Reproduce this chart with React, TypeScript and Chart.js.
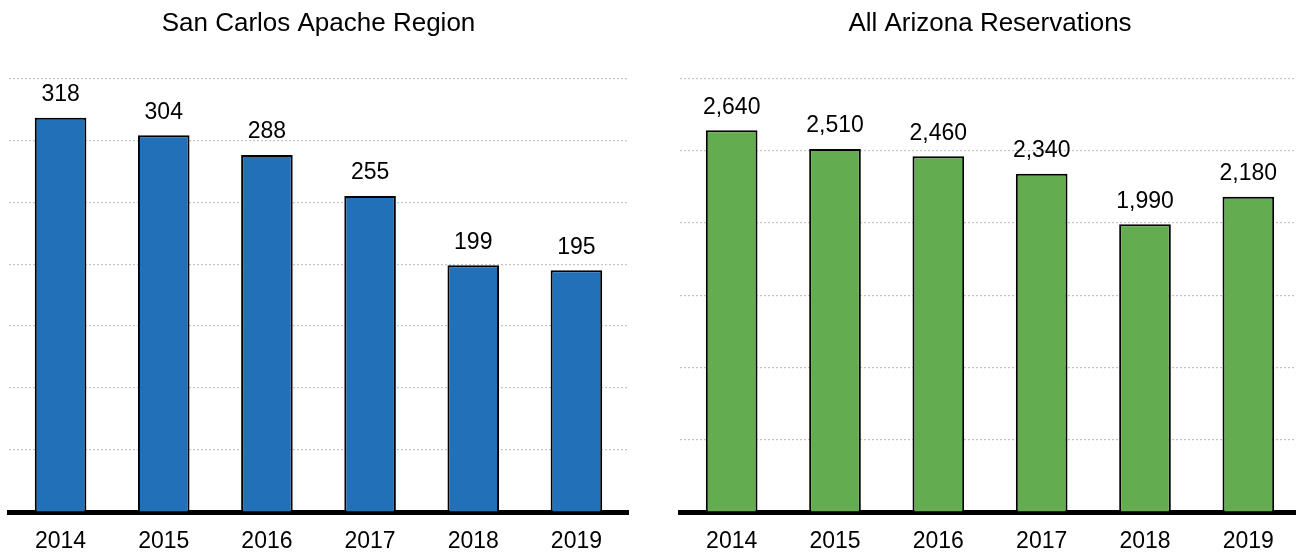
import React, { useEffect, useRef } from "react";
import { Chart, registerables } from "chart.js";

Chart.register(...registerables);

const years = ["2014", "2015", "2016", "2017", "2018", "2019"];
const sanCarlosValues = [318, 304, 288, 255, 199, 195];
const arizonaValues = [2640, 2510, 2460, 2340, 1990, 2180];
const leftTitle = "San Carlos Apache Region";
const rightTitle = "All Arizona Reservations";
const leftColor = "#2170b8";
const rightColor = "#63ac4f";

const FONT = "Arial, 'Liberation Sans', sans-serif";

const labelPlugin = {
  id: "barLabels",
  afterDatasetsDraw(chart: any) {
    const ctx = chart.ctx;
    const meta = chart.getDatasetMeta(0);
    const data = chart.data.datasets[0].data as number[];
    ctx.save();
    ctx.font = `23px ${FONT}`;
    ctx.fillStyle = "#000";
    ctx.textAlign = "center";
    ctx.textBaseline = "middle";
    meta.data.forEach((bar: any, i: number) => {
      ctx.fillText(data[i].toLocaleString("en-US"), bar.x, bar.y - 23);
    });
    ctx.restore();
  },
};

function BarPanel(props: {
  labels: string[];
  values: number[];
  color: string;
  title: string;
  max: number;
  step: number;
  padLeft: number;
  padRight: number;
  width: number;
  left: number;
}) {
  const ref = useRef<HTMLCanvasElement | null>(null);
  useEffect(() => {
    if (!ref.current) return;
    const chart = new Chart(ref.current, {
      type: "bar",
      data: {
        labels: props.labels,
        datasets: [
          {
            data: props.values,
            backgroundColor: props.color,
            borderColor: "#000",
            borderWidth: 2,
            borderSkipped: "bottom",
            categoryPercentage: 1,
            barPercentage: 0.5,
          },
        ],
      },
      options: {
        animation: false,
        responsive: false,
        maintainAspectRatio: false,
        layout: {
          padding: { left: props.padLeft, right: props.padRight, top: 8, bottom: 0 },
        },
        plugins: {
          legend: { display: false },
          tooltip: { enabled: false },
          title: {
            display: true,
            text: props.title,
            color: "#000",
            font: { family: FONT, size: 26, weight: "normal" },
            padding: { top: 0, bottom: 39 },
          },
        },
        scales: {
          x: {
            grid: { display: false, drawTicks: false },
            border: { display: true, color: "#000", width: 5 },
            ticks: {
              color: "#000",
              padding: 16,
              font: { family: FONT, size: 23 },
            },
            afterFit(scale: any) {
              scale.height = 41;
            },
          },
          y: {
            display: true,
            min: 0,
            max: props.max,
            ticks: { display: false, stepSize: props.step },
            border: { display: false, dash: [2, 2] },
            grid: {
              color: "#c4c4c4",
              lineWidth: 1.2,
              drawTicks: false,
            },
            afterFit(scale: any) {
              scale.width = 0;
            },
          },
        },
      } as any,
      plugins: [labelPlugin],
    });
    return () => chart.destroy();
  }, []);
  return (
    <canvas
      ref={ref}
      width={props.width}
      height={553}
      style={{ position: "absolute", left: props.left, top: 0, width: props.width, height: 553 }}
    />
  );
}

export default function App() {
  return (
    <div
      style={{
        position: "absolute",
        left: 0,
        top: 0,
        width: 1296,
        height: 553,
        overflow: "hidden",
        background: "#fff",
      }}
    >
      <BarPanel
        labels={years}
        values={sanCarlosValues}
        color={leftColor}
        title={leftTitle}
        max={350}
        step={50}
        padLeft={9}
        padRight={8}
        width={636}
        left={0}
      />
      <BarPanel
        labels={years}
        values={arizonaValues}
        color={rightColor}
        title={rightTitle}
        max={3000}
        step={500}
        padLeft={20}
        padRight={0}
        width={640}
        left={660}
      />
    </div>
  );
}
